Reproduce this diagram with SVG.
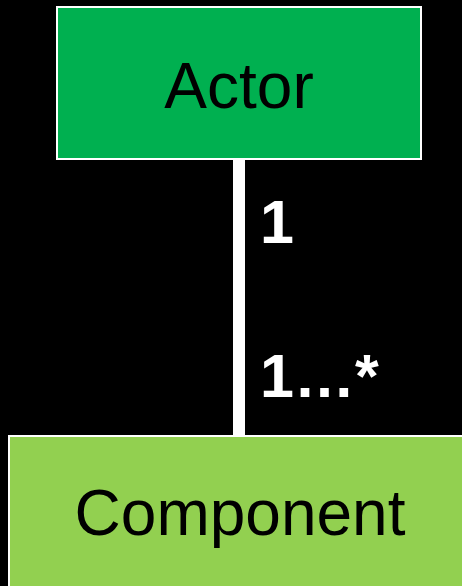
<svg xmlns="http://www.w3.org/2000/svg" width="462" height="586" viewBox="0 0 462 586">
<style>
.box{stroke:#fff;stroke-width:2}
.lbl{font-family:"Liberation Sans",Arial,sans-serif;font-size:64px;fill:#000;text-anchor:middle}
.mult{font-family:"Liberation Sans",Arial,sans-serif;font-size:61px;font-weight:bold;fill:#fff}
</style>
<rect width="462" height="586" fill="#000"/>
<g id="connectors">
<line x1="239" y1="159" x2="239" y2="437" stroke="#fff" stroke-width="12"/>
<text class="mult" x="260" y="243">1</text>
<text class="mult" x="260" y="397">1…*</text>
</g>
<g id="actor">
<rect class="box" x="57" y="7" width="364" height="152" fill="#00B050"/>
<text class="lbl" x="239" y="108">Actor</text>
</g>
<g id="component">
<rect class="box" x="9" y="436" width="462" height="160" fill="#92D050"/>
<text class="lbl" x="240" y="535">Component</text>
</g>
</svg>
